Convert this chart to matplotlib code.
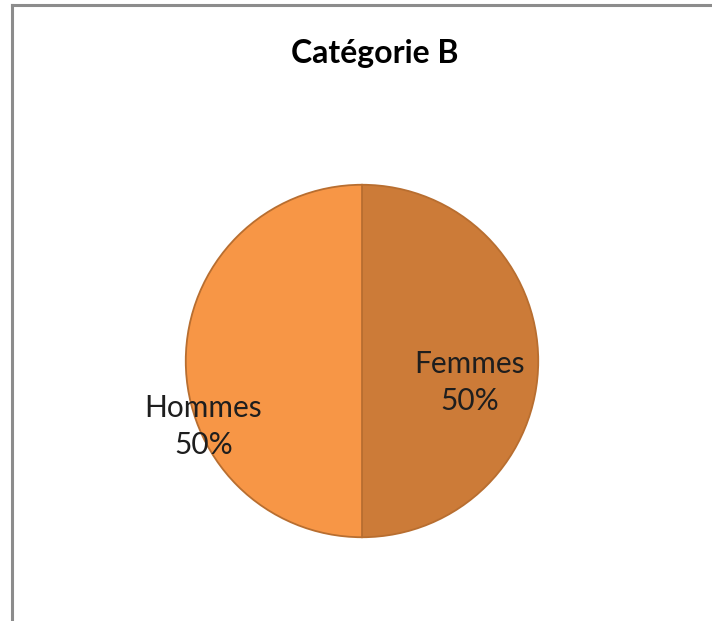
import matplotlib
matplotlib.use('Agg')
import matplotlib.pyplot as plt
from matplotlib.lines import Line2D

# data
labels = ['Femmes', 'Hommes']
values = [50, 50]
colors = ['#CC7B38', '#F79646']
title = 'Catégorie B'

# label anchor positions in pie data units (Excel-like placement)
label_pos = [(0.61, -0.12), (-0.90, -0.37)]

W, H = 712, 621
fig = plt.figure(figsize=(W / 100, H / 100), dpi=100)
fig.patch.set_facecolor('white')

# chart frame (only top and left edges visible in the crop)
fig.add_artist(Line2D([12 / W, 1], [1 - 5 / H, 1 - 5 / H], color='#8c8c8c', lw=2.2))
fig.add_artist(Line2D([12 / W, 12 / W], [0, 1 - 5 / H], color='#8c8c8c', lw=2.2))

cx, cy, r = 362, 361, 178
ax = fig.add_axes([(cx - r) / W, (H - cy - r) / H, 2 * r / W, 2 * r / H])
ax.pie(values, colors=colors, startangle=90, counterclock=False, radius=1,
       wedgeprops=dict(edgecolor='#B86E30', linewidth=1.3))
ax.set_xlim(-1.01, 1.01)
ax.set_ylim(-1.01, 1.01)
ax.set_aspect('equal')
ax.axis('off')

for lab, v, (x, y) in zip(labels, values, label_pos):
    ax.text(x, y, f'{lab}\n{v}%', ha='center', va='center', fontsize=21.5,
            family='Lato', color='#1e1e1e', linespacing=1.4)

fig.text(375 / W, 1 - 53 / H, title, ha='center', va='center', fontsize=23,
         fontweight='bold', family='Lato', color='black')

fig.savefig('out.png', dpi=100)
